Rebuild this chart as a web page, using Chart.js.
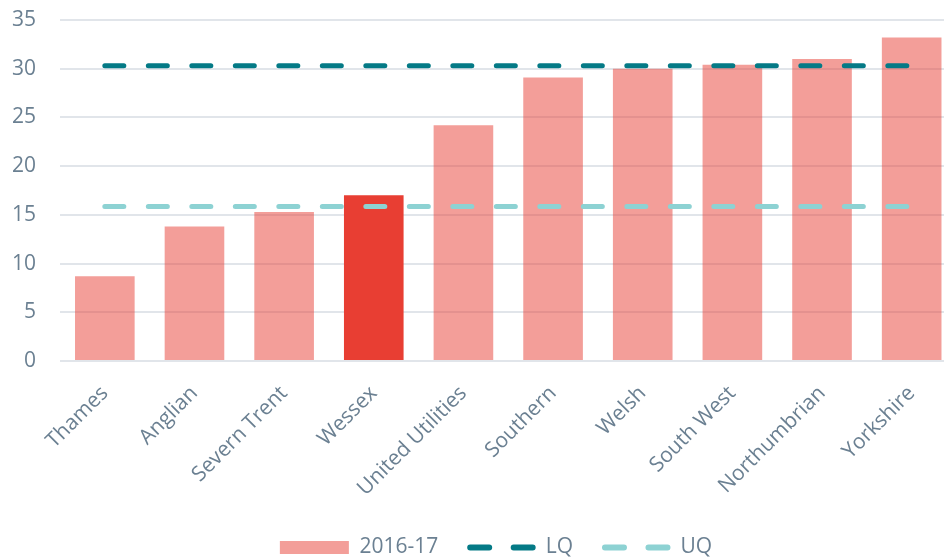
<!DOCTYPE html>
<html>
<head>
<meta charset="utf-8">
<script src="https://cdn.jsdelivr.net/npm/chart.js@4/dist/chart.umd.min.js"></script>
<style>
  html, body { margin: 0; padding: 0; background: #ffffff; overflow: hidden; }
  #wrap { position: relative; width: 992px; height: 557px; }
</style>
</head>
<body>
<div id="wrap"><canvas id="c"></canvas></div>
<script>
const categories = ["Thames", "Anglian", "Severn Trent", "Wessex", "United Utilities", "Southern", "Welsh", "South West", "Northumbrian", "Yorkshire"];
const values2016 = [8.7, 13.8, 15.3, 17.0, 24.2, 29.1, 30.0, 30.4, 31.0, 33.2];
const lqValues = [30.3, 30.3, 30.3, 30.3, 30.3, 30.3, 30.3, 30.3, 30.3, 30.3];
const uqValues = [15.85, 15.85, 15.85, 15.85, 15.85, 15.85, 15.85, 15.85, 15.85, 15.85];
const highlighted = ["Wessex"];
const yTicks = [0, 5, 10, 15, 20, 25, 30, 35];

const pink = 'rgba(232, 62, 51, 0.5)';
const red = '#E83E33';
const lqColor = '#047A86';
const uqColor = '#8DD2D3';
const textColor = '#6B8092';
const gridColor = '#E1E5EA';
const dash = [19, 24.5];

const barColors = categories.map(c => highlighted.includes(c) ? red : pink);

new Chart(document.getElementById('c'), {
  data: {
    labels: categories,
    datasets: [
      {
        type: 'bar',
        label: '2016-17',
        data: values2016,
        backgroundColor: barColors,
        borderWidth: 0,
        barPercentage: 0.665,
        categoryPercentage: 1,
        order: 2
      },
      {
        type: 'line',
        label: 'LQ',
        data: lqValues,
        borderColor: lqColor,
        backgroundColor: lqColor,
        borderWidth: 5,
        borderDash: dash,
        borderCapStyle: 'round',
        pointRadius: 0,
        fill: false,
        order: 0
      },
      {
        type: 'line',
        label: 'UQ',
        data: uqValues,
        borderColor: uqColor,
        backgroundColor: uqColor,
        borderWidth: 5,
        borderDash: dash,
        borderCapStyle: 'round',
        pointRadius: 0,
        fill: false,
        order: 1
      }
    ]
  },
  options: {
    responsive: true,
    maintainAspectRatio: false,
    animation: false,
    layout: { padding: { left: 0, right: 0, top: 20, bottom: -11 } },
    plugins: {
      tooltip: { enabled: false },
      legend: {
        position: 'bottom',
        labels: {
          color: textColor,
          font: { family: '"Open Sans"', size: 21 },
          usePointStyle: true,
          pointStyleWidth: 69,
          boxWidth: 69,
          boxHeight: 13,
          padding: 28,
          generateLabels(chart) {
            return chart.data.datasets.map((ds, i) => {
              const isBar = ds.type === 'bar';
              return {
                text: ds.label,
                datasetIndex: i,
                fillStyle: isBar ? pink : ds.borderColor,
                strokeStyle: isBar ? pink : ds.borderColor,
                lineWidth: isBar ? 0 : 6,
                lineCap: 'round',
                lineDash: isBar ? [] : dash,
                lineDashOffset: isBar ? 0 : 39.5,
                pointStyle: isBar ? 'rect' : 'line',
                fontColor: textColor,
                hidden: false
              };
            });
          }
        }
      }
    },
    scales: {
      x: {
        grid: { display: false, drawTicks: false },
        border: { display: false },
        ticks: {
          color: textColor,
          font: { family: '"Open Sans"', size: 21 },
          maxRotation: 45,
          minRotation: 45,
          autoSkip: false,
          padding: 20
        },
        afterFit(scale) { scale.height = 148; }
      },
      y: {
        min: 0,
        max: 35,
        grid: { color: gridColor, lineWidth: 2, drawTicks: true, tickLength: 22, tickColor: 'rgba(0,0,0,0)' },
        border: { display: false },
        afterBuildTicks(scale) { scale.ticks = yTicks.map(v => ({ value: v })); },
        ticks: {
          color: textColor,
          font: { family: '"Open Sans"', size: 21 },
          padding: 2
        },
        afterFit(scale) { scale.width = 60; }
      },
      yRight: {
        position: 'right',
        display: true,
        min: 0,
        max: 35,
        grid: { display: false, drawTicks: false },
        border: { display: false },
        ticks: { display: false },
        afterFit(scale) { scale.width = 35.5; }
      }
    }
  }
});
</script>
</body>
</html>
